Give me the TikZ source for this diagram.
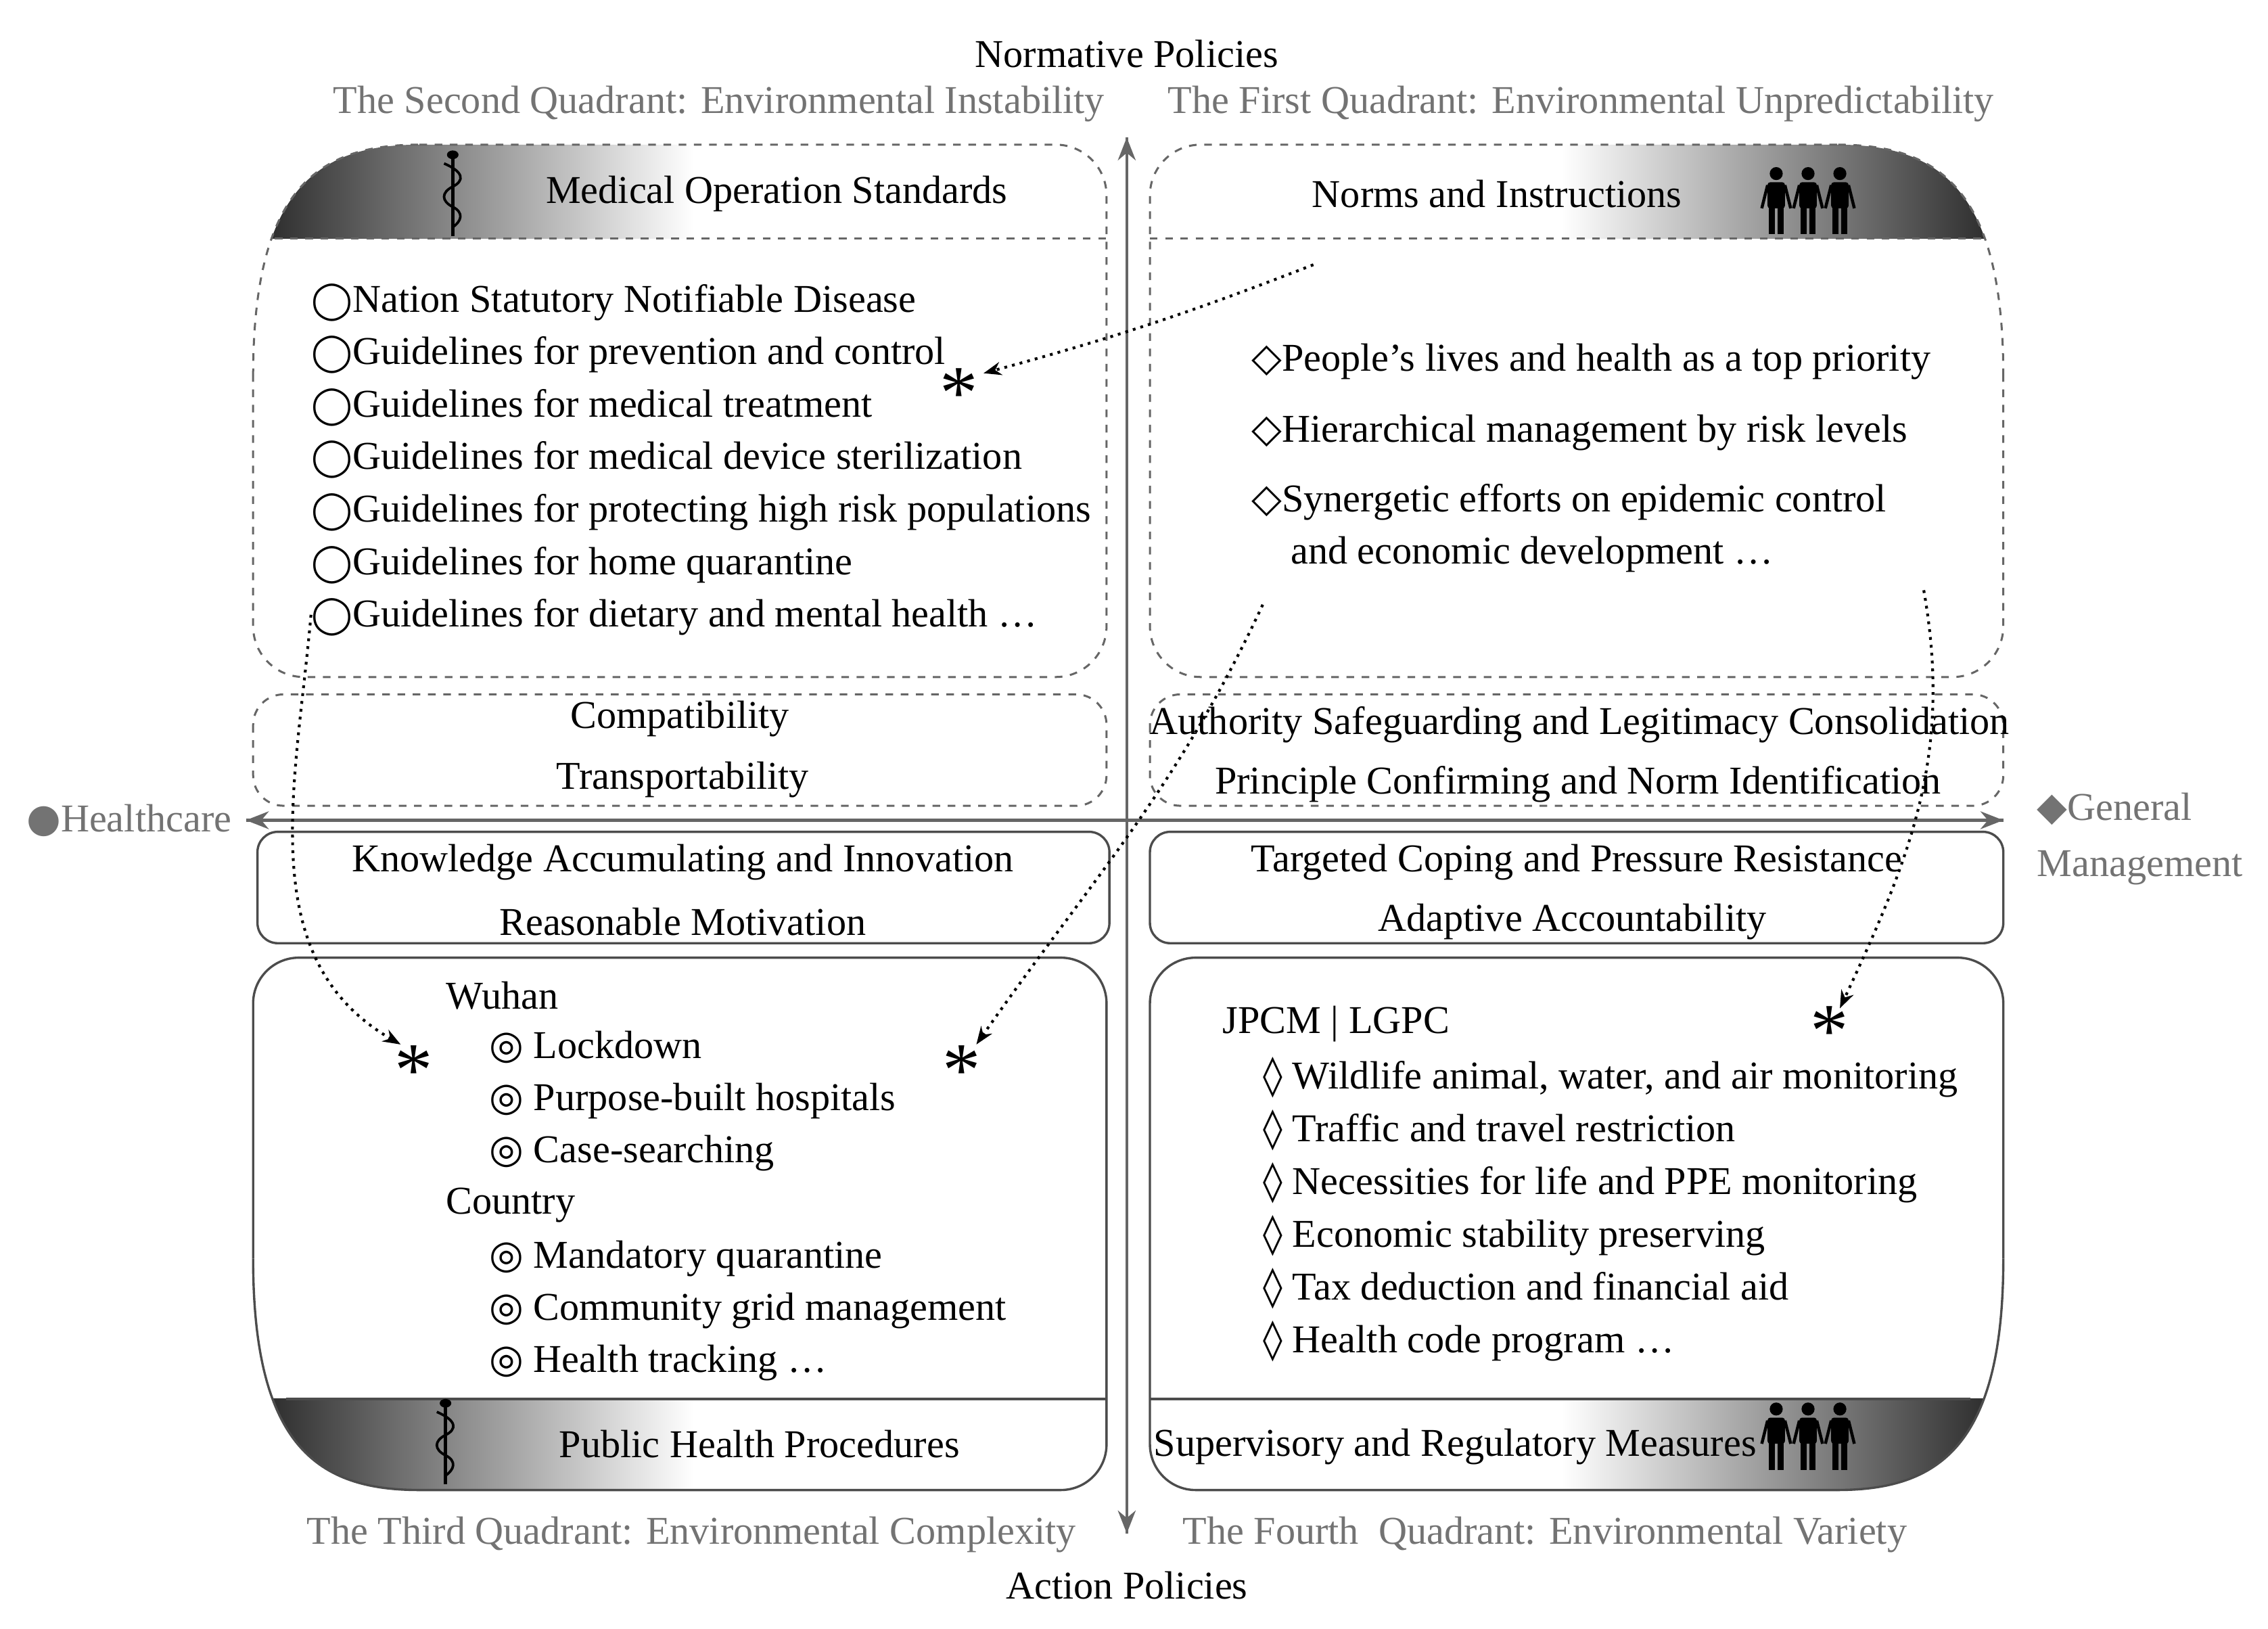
\documentclass[tikz,border=0pt]{standalone}
\usepackage{fontspec}
\setmainfont{Liberation Serif}
\newfontfamily\symf{DejaVu Sans}
\usetikzlibrary{arrows.meta}
\begin{document}
\begin{tikzpicture}[x=0.02cm,y=-0.02cm,
  txt/.style={font=\fontsize{15.5}{18}\selectfont,inner sep=0pt},
  gtxt/.style={txt,text=black!55},
  dbox/.style={draw=black!60,dashed,line width=0.8pt,rounded corners=12pt},
  sbox/.style={draw=black!70,line width=0.9pt,rounded corners=8pt},
  axis/.style={draw=black!60,line width=1.2pt,-{Stealth[length=9pt,width=7pt]}},
  dot/.style={dotted,line width=1.1pt,-{Stealth[length=7pt]}},
  star/.style={inner sep=0pt,font=\fontsize{30}{30}\selectfont},
  pics/person/.style={code={
    \fill (0,-18) circle (4.5);
    \fill[rounded corners=1pt] (-6,-12) rectangle (6,6);
    \fill (-5,5) rectangle (-1,24); \fill (1,5) rectangle (5,24);
    \draw[line width=1.2pt] (-6,-10) -- (-10,6); \draw[line width=1.2pt] (6,-10) -- (10,6);}},
  pics/people/.style={code={\pic at (-22,0) {person}; \pic at (0,0) {person}; \pic at (22,0) {person};}},
  pics/cad/.style={code={
    \draw[line width=1.3pt] (0,-28) -- (0,28);
    \draw[line width=1pt] (-6,-22) .. controls (8,-16) and (8,-10) .. (0,-6) .. controls (-8,-2) and (-8,4) .. (0,8) .. controls (8,12) and (6,18) .. (0,22);
    \fill (0,-28) ellipse (4 and 3);}}
]
\useasboundingbox[fill=white] (0,0) rectangle (1568,1126);
% header/footer gradients
\begin{scope}
\clip (175,260) .. controls (175,130) and (220,100) .. (290,100) -- (765,100) -- (765,165) -- cycle;
\shade[left color=black!85,right color=white] (175,100) rectangle (480,165);
\end{scope}
\begin{scope}
\clip (1385,260) .. controls (1385,130) and (1340,100) .. (1270,100) -- (795,100) -- (795,165) -- cycle;
\shade[right color=black!85,left color=white] (1080,100) rectangle (1385,165);
\end{scope}
\begin{scope}
\clip (175,870) .. controls (175,1000) and (220,1030) .. (290,1030) -- (765,1030) -- (765,870) -- cycle;
\clip (170,967) rectangle (770,1035);
\shade[left color=black!85,right color=white] (175,967) rectangle (480,1030);
\end{scope}
\begin{scope}
\clip (1385,870) .. controls (1385,1000) and (1340,1030) .. (1270,1030) -- (795,1030) -- (795,870) -- cycle;
\clip (790,967) rectangle (1390,1035);
\shade[right color=black!85,left color=white] (1080,967) rectangle (1385,1030);
\end{scope}
% boxes
\draw[dbox] (190,165) -- (765,165);
\draw[dbox,rounded corners=20pt] (290,100) -- (765,100) -- (765,468) -- (175,468) -- (175,260);
\draw[dbox] (175,260) .. controls (175,130) and (220,100) .. (290,100);
\draw[dbox] (795,165) -- (1370,165);
\draw[dbox,rounded corners=20pt] (1270,100) -- (795,100) -- (795,468) -- (1385,468) -- (1385,260);
\draw[dbox] (1385,260) .. controls (1385,130) and (1340,100) .. (1270,100);
\draw[dbox] (175,480) rectangle (765,557);
\draw[dbox] (795,480) rectangle (1385,557);
\draw[sbox] (178,575) rectangle (767,652);
\draw[sbox] (795,575) rectangle (1385,652);
\draw[sbox] (198,967) -- (765,967);
\draw[sbox,rounded corners=18pt] (175,870) -- (175,662) -- (765,662) -- (765,1030) -- (290,1030);
\draw[sbox] (175,870) .. controls (175,1000) and (220,1030) .. (290,1030);
\draw[sbox] (795,967) -- (1362,967);
\draw[sbox,rounded corners=18pt] (1385,870) -- (1385,662) -- (795,662) -- (795,1030) -- (1270,1030);
\draw[sbox] (1385,870) .. controls (1385,1000) and (1340,1030) .. (1270,1030);
% axes
\coordinate (top) at (779,95); \coordinate (bot) at (779,1060);
\coordinate (lft) at (170,567); \coordinate (rgt) at (1385,567);
\draw[axis] (bot) -- (top); \draw[axis] (top) -- (bot);
\draw[axis] (lft) -- (rgt); \draw[axis] (rgt) -- (lft);
% titles
\node[txt] (np) at (779,37) {Normative Policies};
\node[txt] (ap) at (779,1096) {Action Policies};
\node[gtxt] (q2) at (497,72) {The Second Quadrant: Environmental Instability};
\node[gtxt] (q1) at (1093,72) {The First Quadrant: Environmental Unpredictability};
\node[gtxt] (q3) at (478,1061) {The Third Quadrant: Environmental Complexity};
\node[gtxt] (q4) at (1068,1061) {The Fourth\ \ Quadrant: Environmental Variety};
\node[gtxt,anchor=west] (hc) at (18,567) {{\symf●}Healthcare};
\node[gtxt,anchor=west,align=left] (gm) at (1408,580) {{\symf◆}General\\[4pt]Management};
% headers
\node[txt] (mos) at (537,134) {Medical Operation Standards};
\pic at (313,135) {cad};
\node[txt] (ni) at (1035,134) {Norms and Instructions};
\pic at (1250,138) {people};
\node[txt] (php) at (525,998) {Public Health Procedures};
\pic at (308,998) {cad};
\node[txt] (srm) at (1006,1000) {Supervisory and Regulatory Measures};
\pic at (1250,992) {people};
% left top list
\foreach \t [count=\i] in {{Nation Statutory Notifiable Disease},{Guidelines for prevention and control},{Guidelines for medical treatment},{Guidelines for medical device sterilization},{Guidelines for protecting high risk populations},{Guidelines for home quarantine},{Guidelines for dietary and mental health \dots}}
  \node[txt,anchor=west] (l\i) at (215,{209+36.3*(\i-1)}) {{\symf\fontsize{14.5}{17}\selectfont ◯}\t};
% right top list
\node[txt,anchor=west] (r1) at (865,250) {{\symf ◇}People’s lives and health as a top priority};
\node[txt,anchor=west] (r2) at (865,299) {{\symf ◇}Hierarchical management by risk levels};
\node[txt,anchor=west] (r3) at (865,347) {{\symf ◇}Synergetic efforts on epidemic control};
\node[txt,anchor=west] (r4) at (892,383) {and economic development \dots};
% middle
\node[txt] (c1) at (470,497) {Compatibility};
\node[txt] (c2) at (472,539) {Transportability};
\node[txt] (a1) at (1092,501) {Authority Safeguarding and Legitimacy Consolidation};
\node[txt] (a2) at (1091,542) {Principle Confirming and Norm Identification};
\node[txt] (k1) at (472,596) {Knowledge Accumulating and Innovation};
\node[txt] (k2) at (472,637) {Reasonable Motivation};
\node[txt] (t1) at (1090,596) {Targeted Coping and Pressure Resistance};
\node[txt] (t2) at (1087,637) {Adaptive Accountability};
% bottom left
\node[txt,anchor=west] (wu) at (308,688) {Wuhan};
\node[txt,anchor=west] (w1) at (338,724) {{\symf ◎} Lockdown};
\node[txt,anchor=west] (w2) at (338,761) {{\symf ◎} Purpose-built hospitals};
\node[txt,anchor=west] (w3) at (338,797) {{\symf ◎} Case-searching};
\node[txt,anchor=west] (co) at (308,833) {Country};
\node[txt,anchor=west] (c4) at (338,870) {{\symf ◎} Mandatory quarantine};
\node[txt,anchor=west] (c5) at (338,906) {{\symf ◎} Community grid management};
\node[txt,anchor=west] (c6) at (338,942) {{\symf ◎} Health tracking \dots};
% bottom right
\node[txt,anchor=west] (jp) at (845,708) {JPCM | LGPC};
\foreach \t [count=\i] in {{Wildlife animal, water, and air monitoring},{Traffic and travel restriction},{Necessities for life and PPE monitoring},{Economic stability preserving},{Tax deduction and financial aid},{Health code program \dots}}
  \node[txt,anchor=west] (b\i) at (873,{745+36.4*(\i-1)}) {{\symf ◊} \t};
% stars and dotted arrows
\node[star] (s1) at (663,272) {*};
\node[star] (s2) at (286,740) {*};
\node[star] (s3) at (665,740) {*};
\node[star] (s4) at (1265,713) {*};
\coordinate (d1) at (908,183); \coordinate (d2) at (215,425);
\coordinate (d3) at (873,418); \coordinate (d4) at (1330,408);
\coordinate (e1) at (680,258); \coordinate (e2) at (277,722);
\coordinate (e3) at (675,722); \coordinate (e4) at (1272,697);
\draw[dot] (d1) to[bend left=3] (e1);
\draw[dot] (d2) to[out=-95,in=150] (e2);
\draw[dot] (d3) to[out=-115,in=55] (e3);
\draw[dot] (d4) to[out=-80,in=65] (e4);
\end{tikzpicture}
\end{document}
